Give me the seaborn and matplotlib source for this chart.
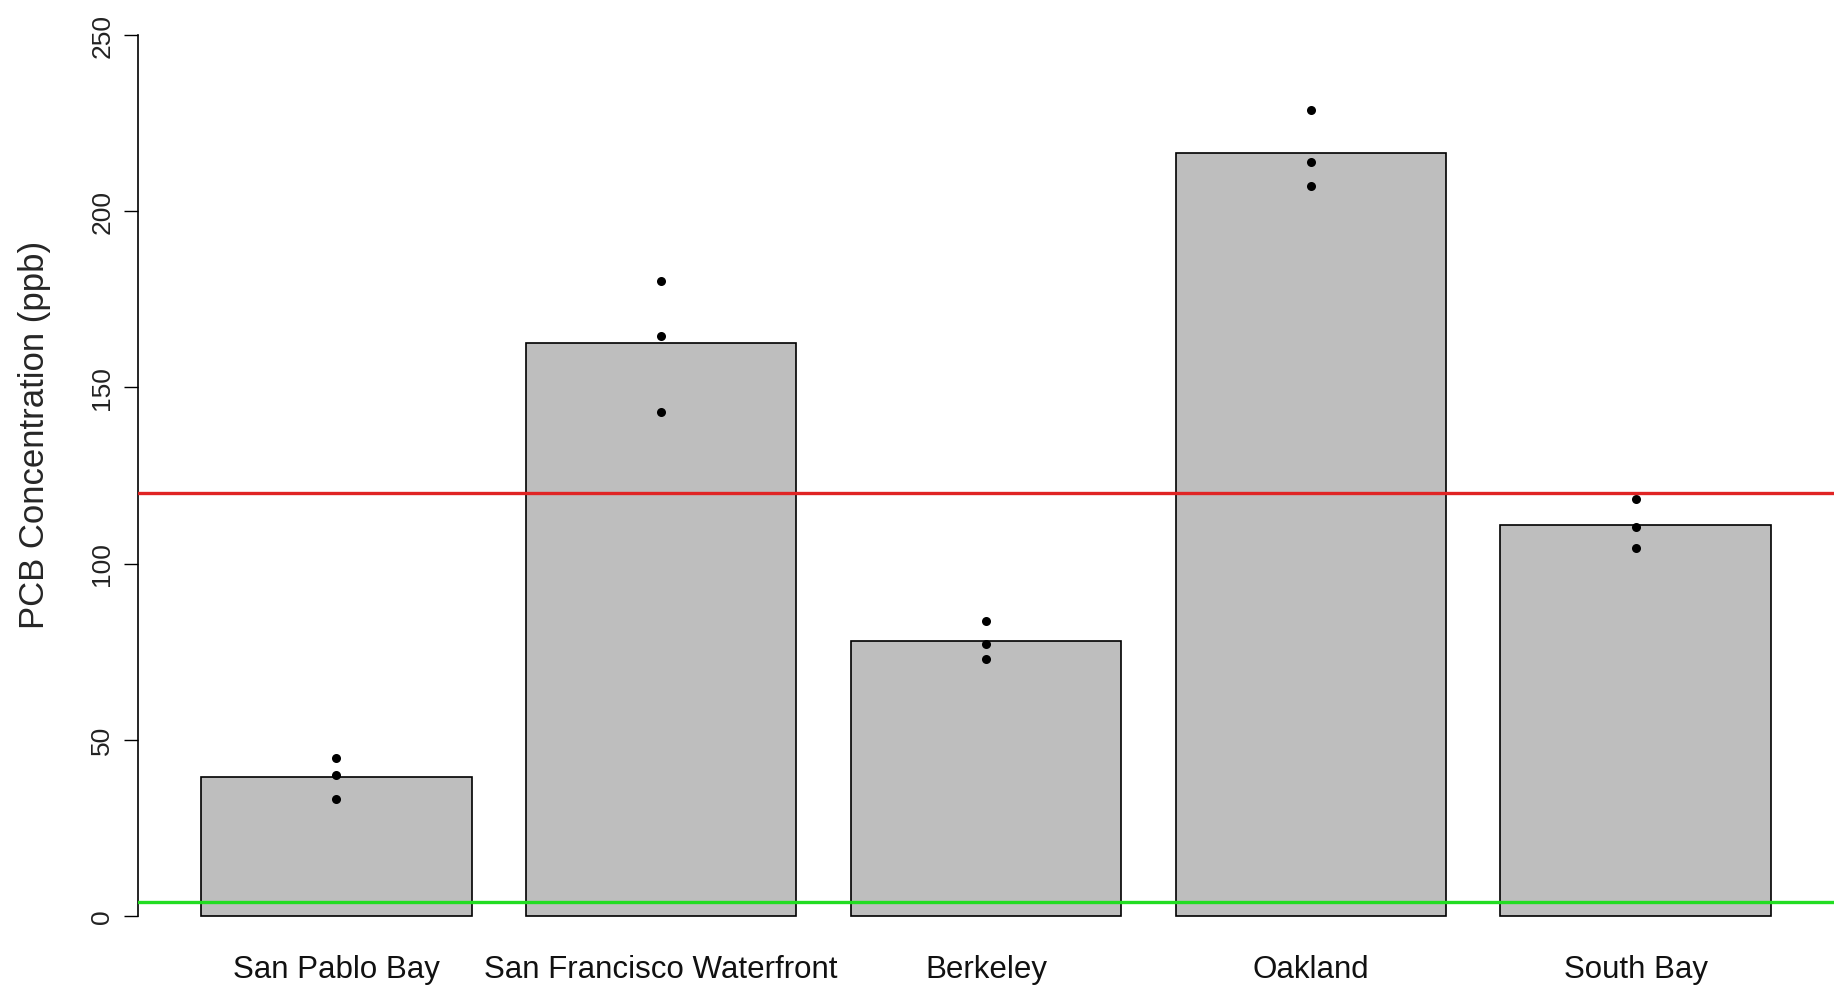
import numpy as np
import pandas as pd
import matplotlib
matplotlib.use("Agg")
import matplotlib.pyplot as plt
import seaborn as sns

# Sites and replicate PCB measurements (ppb)
sites = ["San Pablo Bay", "San Francisco Waterfront", "Berkeley", "Oakland", "South Bay"]
san_pablo = [44.9, 40.1, 33.2]
sf_waterfront = [180.1, 164.6, 143.1]
berkeley = [83.7, 77.1, 73.0]
oakland = [228.7, 214.1, 207.2]
south_bay = [118.3, 110.3, 104.4]

# Reference thresholds
upper_threshold = 120
lower_threshold = 4

y_ticks = [0, 50, 100, 150, 200, 250]

samples = [san_pablo, sf_waterfront, berkeley, oakland, south_bay]
df = pd.DataFrame({
    "site": np.repeat(sites, [len(s) for s in samples]),
    "pcb": np.concatenate(samples),
})

sns.set_theme(style="white")
plt.rcParams["font.family"] = ["Liberation Sans", "DejaVu Sans"]

fig = plt.figure(figsize=(18.36, 9.87), dpi=100)
ax = fig.add_axes([138 / 1836, 1 - 952 / 987, (1834 - 138) / 1836, (951) / 987])

sns.barplot(data=df, x="site", y="pcb", order=sites, errorbar=None,
            color="#BEBEBE", saturation=1, width=1 / 1.2,
            edgecolor="black", linewidth=1.2, ax=ax, zorder=1)
sns.stripplot(data=df, x="site", y="pcb", order=sites, jitter=False,
              color="black", size=6.5, ax=ax, zorder=3)

ax.axhline(upper_threshold, color="#E02424", lw=2.4, zorder=4)
ax.axhline(lower_threshold, color="#22DD22", lw=2.4, zorder=4)

ax.set_xlim(-0.61, len(sites) - 1 + 0.61)
ax.set_ylim(-10, 260)
ax.set_yticks(y_ticks)
ax.set_yticklabels([str(t) for t in y_ticks], rotation=90, va="center",
                   fontsize=19, color="#222222")
ax.tick_params(axis="y", direction="out", length=10, width=1, color="black",
               pad=7, left=True)
ax.tick_params(axis="x", length=0, labelsize=22.5, pad=2, colors="#111111")

for side in ["top", "right", "bottom"]:
    ax.spines[side].set_visible(False)
ax.spines["left"].set_bounds(0, 250)
ax.spines["left"].set_color("black")
ax.spines["left"].set_linewidth(1.2)

ax.set_xlabel("")
ax.set_ylabel("PCB Concentration (ppb)", fontsize=25)
ax.yaxis.set_label_coords(-0.0515, 0.544)
ax.patch.set_alpha(0)

fig.savefig("out.png", dpi=100, facecolor="white")
